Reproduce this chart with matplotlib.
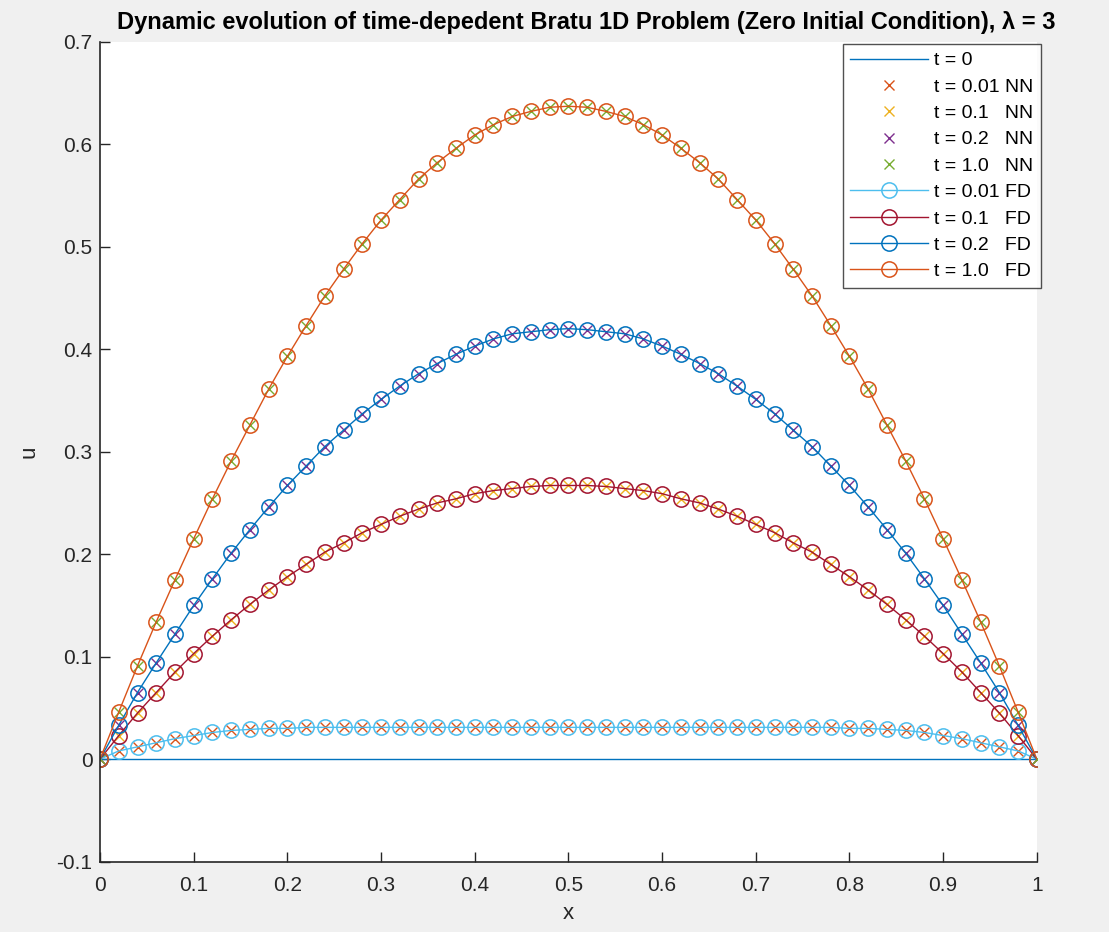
import matplotlib.pyplot as plt

# malla espacial (paso 0.02)
x = [0.00, 0.02, 0.04, 0.06, 0.08, 0.10, 0.12, 0.14, 0.16, 0.18,
     0.20, 0.22, 0.24, 0.26, 0.28, 0.30, 0.32, 0.34, 0.36, 0.38,
     0.40, 0.42, 0.44, 0.46, 0.48, 0.50, 0.52, 0.54, 0.56, 0.58,
     0.60, 0.62, 0.64, 0.66, 0.68, 0.70, 0.72, 0.74, 0.76, 0.78,
     0.80, 0.82, 0.84, 0.86, 0.88, 0.90, 0.92, 0.94, 0.96, 0.98, 1.00]

u_t0 = [0.0] * len(x)

u_t001 = [0, 0.008, 0.012, 0.016, 0.020, 0.023, 0.026, 0.028, 0.029, 0.030,
          0.030, 0.031, 0.031, 0.031, 0.031, 0.031, 0.031, 0.031, 0.031, 0.031,
          0.031, 0.031, 0.031, 0.031, 0.031, 0.031, 0.031, 0.031, 0.031, 0.031,
          0.031, 0.031, 0.031, 0.031, 0.031, 0.031, 0.031, 0.031, 0.031, 0.031,
          0.030, 0.030, 0.029, 0.028, 0.026, 0.023, 0.020, 0.016, 0.012, 0.008, 0]

u_t01 = [0, 0.023, 0.045, 0.065, 0.085, 0.103, 0.120, 0.136, 0.151, 0.165,
         0.178, 0.190, 0.202, 0.211, 0.221, 0.229, 0.237, 0.244, 0.250, 0.254,
         0.259, 0.262, 0.264, 0.266, 0.267, 0.267, 0.267, 0.266, 0.264, 0.262,
         0.259, 0.254, 0.250, 0.244, 0.237, 0.229, 0.221, 0.211, 0.202, 0.190,
         0.178, 0.165, 0.151, 0.136, 0.120, 0.103, 0.085, 0.065, 0.045, 0.023, 0]

u_t02 = [0, 0.033, 0.065, 0.094, 0.122, 0.150, 0.176, 0.201, 0.224, 0.246,
         0.267, 0.286, 0.305, 0.321, 0.337, 0.351, 0.364, 0.376, 0.386, 0.395,
         0.403, 0.410, 0.415, 0.417, 0.419, 0.420, 0.419, 0.417, 0.415, 0.410,
         0.403, 0.395, 0.386, 0.376, 0.364, 0.351, 0.337, 0.321, 0.305, 0.286,
         0.267, 0.246, 0.224, 0.201, 0.176, 0.150, 0.122, 0.094, 0.065, 0.033, 0]

u_t1 = [0, 0.046, 0.091, 0.134, 0.175, 0.215, 0.254, 0.291, 0.326, 0.361,
        0.393, 0.423, 0.452, 0.478, 0.503, 0.526, 0.546, 0.566, 0.582, 0.596,
        0.609, 0.619, 0.627, 0.632, 0.636, 0.637, 0.636, 0.632, 0.627, 0.619,
        0.609, 0.596, 0.582, 0.566, 0.546, 0.526, 0.503, 0.478, 0.452, 0.423,
        0.393, 0.361, 0.326, 0.291, 0.254, 0.215, 0.175, 0.134, 0.091, 0.046, 0]

# la red neuronal coincide con diferencias finitas a esta escala
nn_series = [u_t001, u_t01, u_t02, u_t1]
fd_series = [u_t001, u_t01, u_t02, u_t1]
nn_labels = ["t = 0.01 NN", "t = 0.1   NN", "t = 0.2   NN", "t = 1.0   NN"]
fd_labels = ["t = 0.01 FD", "t = 0.1   FD", "t = 0.2   FD", "t = 1.0   FD"]
nn_colors = ["#D95319", "#EDB120", "#7E2F8E", "#77AC30"]
fd_colors = ["#4DBEEE", "#A2142F", "#0072BD", "#D95319"]

plt.rcParams['font.family'] = ['Liberation Sans', 'DejaVu Sans']

fig = plt.figure(figsize=(11.09, 9.32), dpi=100, facecolor="#F0F0F0")
ax = fig.add_axes([0.0902, 0.0755, 0.8447, 0.8798])
ax.set_facecolor("white")

ax.plot(x, u_t0, color="#0072BD", lw=1.0, label="t = 0")
for u, lab, c in zip(nn_series, nn_labels, nn_colors):
    ax.plot(x, u, ls="none", marker="x", ms=6.5, mew=1.0, color=c, label=lab)
for u, lab, c in zip(fd_series, fd_labels, fd_colors):
    ax.plot(x, u, color=c, lw=1.0, marker="o", ms=11, mfc="none",
            mew=1.1, label=lab)

ax.set_xlim(0, 1)
ax.set_ylim(-0.1, 0.7)
ax.set_xticks([0, 0.1, 0.2, 0.3, 0.4, 0.5, 0.6, 0.7, 0.8, 0.9, 1])
ax.set_xticklabels(["0", "0.1", "0.2", "0.3", "0.4", "0.5", "0.6", "0.7",
                    "0.8", "0.9", "1"])
ax.set_yticks([-0.1, 0, 0.1, 0.2, 0.3, 0.4, 0.5, 0.6, 0.7])
ax.set_yticklabels(["-0.1", "0", "0.1", "0.2", "0.3", "0.4", "0.5", "0.6", "0.7"])
ax.tick_params(direction="in", length=7, width=1, colors="#262626",
               labelsize=15, labelcolor="#262626")
ax.tick_params(axis="x", pad=10)
ax.tick_params(axis="y", pad=5.5)
for s in ["top", "right"]:
    ax.spines[s].set_visible(False)
for s in ["left", "bottom"]:
    ax.spines[s].set_color("#262626")
    ax.spines[s].set_linewidth(1.2)

ax.set_xlabel("x", fontsize=16, color="#262626", labelpad=6)
ax.set_ylabel("u", fontsize=16, color="#262626", labelpad=12)
ax.set_title("Dynamic evolution of time-depedent Bratu 1D Problem (Zero Initial Condition), λ = 3",
             fontsize=17, fontweight="bold", pad=9, x=0.519)

leg = ax.legend(loc="upper right", bbox_to_anchor=(1041 / 1109, 1 - 44 / 932),
                bbox_transform=fig.transFigure, fontsize=14, frameon=True,
                fancybox=False, edgecolor="#262626", handlelength=4.0,
                labelspacing=0.45, borderaxespad=0, handletextpad=0.3,
                borderpad=0.4)
leg.get_frame().set_linewidth(1.0)

fig.savefig("out.png", dpi=100, facecolor=fig.get_facecolor())
